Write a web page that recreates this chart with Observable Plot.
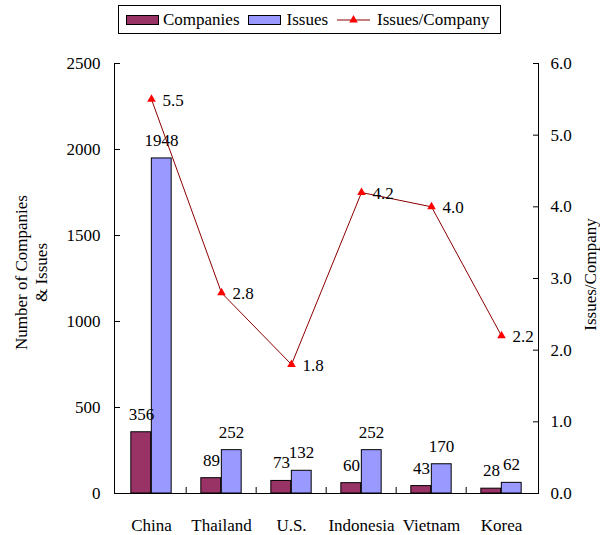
<!DOCTYPE html>
<html>
<head>
<meta charset="utf-8">
<script src="https://cdn.jsdelivr.net/npm/d3@7"></script>
<script src="https://cdn.jsdelivr.net/npm/@observablehq/plot@0.6"></script>
<style>
  body { margin: 0; background: #fff; }
  #wrap { position: relative; width: 600px; height: 535px; font-family: "Liberation Serif", "Times New Roman", serif; color: #000; }
  #chart svg text { font-family: "Liberation Serif", "Times New Roman", serif; }
  #legend { position: absolute; left: 118px; top: 5px; width: 383px; height: 29px; box-sizing: border-box;
            border: 1px solid #000; display: flex; align-items: center; font-size: 17px; padding-left: 7px; background: #fff; }
  #legend .sw { display: inline-block; width: 33px; height: 10px; box-sizing: border-box; border: 1px solid #000; }
  #legend span.lbl { margin-left: 4px; }
</style>
</head>
<body>
<div id="wrap">
  <div id="chart"></div>
  <div id="legend"></div>
</div>
<script>
// Listings by country: number of companies, number of issues, and issues per company
const countries = ["China", "Thailand", "U.S.", "Indonesia", "Vietnam", "Korea"];
const companies = [356, 89, 73, 60, 43, 28];
const issues = [1948, 252, 132, 252, 170, 62];
const issuesPerCompany = [5.5, 2.8, 1.8, 4.2, 4.0, 2.2];
const leftTicks = [0, 500, 1000, 1500, 2000, 2500];
const rightTicks = [0, 1, 2, 3, 4, 5, 6];
const seriesNames = ["Companies", "Issues", "Issues/Company"];
const colors = { companies: "#993366", issues: "#9999FF", line: "#8B0000", marker: "#FF0000" };

const rows = countries.map((c, i) => ({
  country: c, companies: companies[i], issues: issues[i], ratio: issuesPerCompany[i]
}));

const W = 600, H = 535;
const mL = 114, mR = 62, mT = 63, mB = 42;
const bw = (W - mL - mR) / countries.length;   // band width
const barW = 20.5;
const yMax = 2500, rMax = 6;
const k = yMax / rMax;                           // ratio -> left-axis units

const font = "'Liberation Serif', 'Times New Roman', serif";

const chart = Plot.plot({
  width: W, height: H,
  marginLeft: mL, marginRight: mR, marginTop: mT, marginBottom: mB,
  style: { fontFamily: font, fontSize: "17px", color: "#000", background: "#fff" },
  x: { type: "band", domain: countries, padding: 0 },
  y: { domain: [0, yMax] },
  marks: [
    Plot.barY(rows, { x: "country", y: "companies", fill: colors.companies, stroke: "#000", strokeWidth: 1,
                      insetLeft: bw / 2 - barW, insetRight: bw / 2 }),
    Plot.barY(rows, { x: "country", y: "issues", fill: colors.issues, stroke: "#000", strokeWidth: 1,
                      insetLeft: bw / 2, insetRight: bw / 2 - barW }),
    Plot.ruleY([0], { stroke: "#000" }),
    Plot.frame({ anchor: "left", stroke: "#000" }),
    Plot.frame({ anchor: "right", stroke: "#000" }),
    // left axis: inward ticks + labels
    Plot.axisY(leftTicks, { anchor: "left", tickSize: 6, dx: 6, tickFormat: () => "", label: null }),
    Plot.axisY(leftTicks, { anchor: "left", tickSize: 0, tickPadding: 14, tickFormat: d => String(d), label: null }),
    // right axis (issues per company)
    Plot.axisY(rightTicks.map(v => v * k), { anchor: "right", tickSize: 6, dx: -6, tickFormat: () => "", label: null }),
    Plot.axisY(rightTicks.map(v => v * k), { anchor: "right", tickSize: 0, tickPadding: 12,
                                             tickFormat: d => (d / k).toFixed(1), label: null }),
    // bottom axis: ticks between categories + category names
    Plot.axisX(countries.slice(1), { anchor: "bottom", tickSize: 6, dy: -6, dx: -bw / 2, tickFormat: () => "", label: null }),
    Plot.axisX(countries, { anchor: "bottom", tickSize: 0, tickPadding: 25, label: null }),
    // value labels on bars
    Plot.text(rows, { x: "country", y: "companies", text: d => String(d.companies), dx: -10, dy: -18 }),
    Plot.text(rows, { x: "country", y: "issues", text: d => String(d.issues), dx: 10, dy: -18 }),
    // issues per company line
    Plot.line(rows, { x: "country", y: d => d.ratio * k, stroke: colors.line, strokeWidth: 1 }),
    Plot.dot(rows, { x: "country", y: d => d.ratio * k, symbol: "triangle", r: 3.2, fill: colors.marker, stroke: "none" }),
    Plot.text(rows, { x: "country", y: d => d.ratio * k, text: d => d.ratio.toFixed(1), textAnchor: "start", dx: 11, dy: 1 }),
    // axis titles
    Plot.text(["Number of Companies\n& Issues"], { text: d => d, frameAnchor: "left", textAnchor: "middle",
                                                   rotate: -90, dx: -84, dy: -6, lineHeight: 1.18 }),
    Plot.text(["Issues/Company"], { text: d => d, frameAnchor: "right", textAnchor: "middle", rotate: -90, dx: 52, dy: -4 })
  ]
});
document.getElementById("chart").appendChild(chart);

// legend
const legend = d3.select("#legend");
legend.append("span").attr("class", "sw").style("background", colors.companies);
legend.append("span").attr("class", "lbl").text(seriesNames[0]);
legend.append("span").attr("class", "sw").style("background", colors.issues).style("margin-left", "8px");
legend.append("span").attr("class", "lbl").style("margin-left", "6px").text(seriesNames[1]);
const ls = legend.append("svg").attr("width", 33).attr("height", 12).style("margin-left", "9px");
ls.append("line").attr("x1", 0).attr("x2", 33).attr("y1", 6).attr("y2", 6).attr("stroke", colors.line).attr("stroke-width", 1);
ls.append("path").attr("d", d3.symbol(d3.symbolTriangle, Math.PI * 3.2 * 3.2)()).attr("transform", "translate(16.5,6)").attr("fill", colors.marker);
legend.append("span").attr("class", "lbl").style("margin-left", "7px").text(seriesNames[2]);
</script>
</body>
</html>
